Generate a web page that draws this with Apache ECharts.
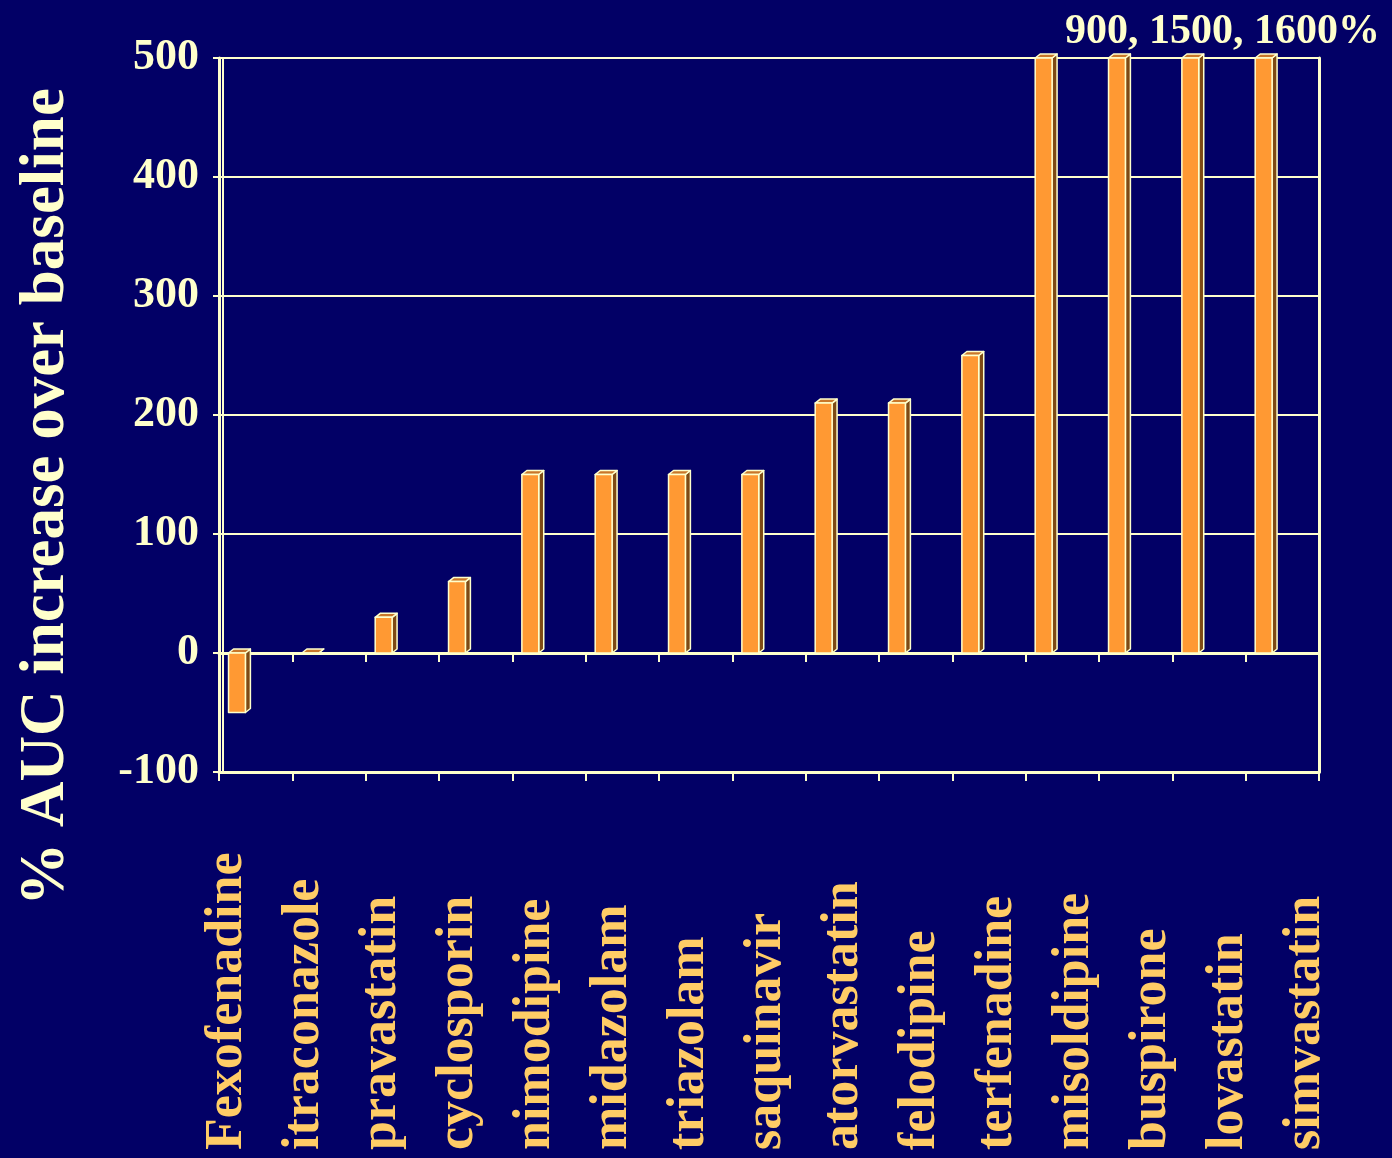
<!DOCTYPE html>
<html>
<head>
<meta charset="utf-8">
<title>% AUC increase over baseline</title>
<script src="https://cdn.jsdelivr.net/npm/echarts@6/dist/echarts.min.js"></script>
<style>
  html, body { margin: 0; padding: 0; background: #020066; }
  #chart { width: 1392px; height: 1158px; }
</style>
</head>
<body>
<div id="chart"></div>
<script>
// Drugs, ordered by the AUC change they show
const drugs = ['Fexofenadine', 'itraconazole', 'pravastatin', 'cyclosporin', 'nimodipine',
  'midazolam', 'triazolam', 'saquinavir', 'atorvastatin', 'felodipine', 'terfenadine',
  'misoldipine', 'buspirone', 'lovastatin', 'simvastatin'];
// % AUC increase over baseline (bars above the axis top are drawn capped)
const aucIncrease = [-50, 0, 30, 60, 150, 150, 150, 150, 210, 210, 250, 500, 500, 500, 500];
// Value axis ticks
const yTicks = [-100, 0, 100, 200, 300, 400, 500];
const offScaleNote = '900, 1500, 1600%';
const yAxisTitle = '% AUC increase over baseline';

const Y_MIN = yTicks[0];
const Y_MAX = yTicks[yTicks.length - 1];
const CREAM = '#FFFFCC';
const LABEL = '#FFCC66';
const SERIF = '"Liberation Serif", "Times New Roman", serif';

const chart = echarts.init(document.getElementById('chart'));

// Draws a bar as a small 3D block: front face, right side and top face
function renderBar(params, api) {
  const i = api.value(0);
  const v = Math.max(Y_MIN, Math.min(api.value(1), Y_MAX));
  const base = api.coord([i, 0]);
  const top = api.coord([i, v]);
  const band = api.size([1, 0])[0];
  const x0 = base[0] - band * 0.37;
  const w = band * 0.23;
  const dx = 5, dy = 4;
  const yHi = Math.min(base[1], top[1]);
  const yLo = Math.max(base[1], top[1]);
  const edge = { stroke: CREAM, lineWidth: 1.5, lineJoin: 'round' };
  return {
    type: 'group',
    children: [
      {
        type: 'polygon',
        shape: { points: [[x0 + w, yHi], [x0 + w + dx, yHi - dy], [x0 + w + dx, yLo - dy], [x0 + w, yLo]] },
        style: Object.assign({ fill: '#7E4A14' }, edge)
      },
      {
        type: 'polygon',
        shape: { points: [[x0, yHi], [x0 + dx, yHi - dy], [x0 + w + dx, yHi - dy], [x0 + w, yHi]] },
        style: Object.assign({ fill: '#C9772A' }, edge)
      },
      {
        type: 'rect',
        shape: { x: x0, y: yHi, width: w, height: yLo - yHi },
        style: Object.assign({ fill: '#FF9933' }, edge)
      }
    ]
  };
}

const plotGrid = { left: 219, right: 73, top: 58, bottom: 386 };
const tickStyle = { show: true, interval: 0, length: 9, lineStyle: { color: CREAM, width: 2 } };

chart.setOption({
  backgroundColor: '#020066',
  animation: false,
  title: {
    text: offScaleNote,
    right: 7,
    top: 6,
    textStyle: { color: CREAM, fontFamily: SERIF, fontWeight: 'bold', fontSize: 42 }
  },
  graphic: [{
    type: 'text',
    x: 47,
    y: 497,
    rotation: Math.PI / 2,
    style: {
      text: yAxisTitle,
      fill: CREAM,
      font: 'bold 63px ' + SERIF,
      align: 'center',
      verticalAlign: 'middle',
      textAlign: 'center',
      textVerticalAlign: 'middle'
    }
  }],
  grid: [
    plotGrid,
    // layout band used only to place the drug names under the plot
    { left: 189.5, width: 1155, top: 58, bottom: 386 }
  ],
  xAxis: [
    {
      type: 'category', data: drugs, gridIndex: 0,
      axisLine: { onZero: true, lineStyle: { color: CREAM, width: 3 } },
      axisTick: tickStyle,
      axisLabel: { show: false },
      splitLine: { show: false }
    },
    {
      type: 'category', data: drugs, gridIndex: 0, position: 'bottom',
      axisLine: { onZero: false, lineStyle: { color: CREAM, width: 3 } },
      axisTick: tickStyle,
      axisLabel: { show: false },
      splitLine: { show: false }
    },
    {
      type: 'category', data: drugs, gridIndex: 1, position: 'bottom',
      axisLine: { show: false, onZero: false },
      axisTick: { show: false },
      axisLabel: {
        show: true, interval: 0, rotate: 90, margin: 378,
        align: 'left', verticalAlign: 'middle',
        color: LABEL, fontFamily: SERIF, fontWeight: 'bold', fontSize: 52
      }
    }
  ],
  yAxis: [
    {
      type: 'value', gridIndex: 0, min: Y_MIN, max: Y_MAX, interval: 100,
      axisLine: { show: true, lineStyle: { color: CREAM, width: 3 } },
      axisTick: { show: true, length: 6, lineStyle: { color: CREAM, width: 2 } },
      axisLabel: { color: CREAM, fontFamily: SERIF, fontWeight: 'bold', fontSize: 44, margin: 20 },
      splitLine: { show: true, lineStyle: { color: CREAM, width: 2 } }
    },
    {
      type: 'value', gridIndex: 0, min: Y_MIN, max: Y_MAX, interval: 100, position: 'right',
      axisLine: { show: true, lineStyle: { color: CREAM, width: 3 } },
      axisTick: { show: false }, axisLabel: { show: false }, splitLine: { show: false }
    },
    {
      // inner edge of the left wall, drawn as a second line just inside the axis
      type: 'value', gridIndex: 0, min: Y_MIN, max: Y_MAX, interval: 100, position: 'left', offset: -4,
      axisLine: { show: true, lineStyle: { color: CREAM, width: 2 } },
      axisTick: { show: false }, axisLabel: { show: false }, splitLine: { show: false }
    },
    {
      type: 'value', gridIndex: 1, min: Y_MIN, max: Y_MAX, show: false
    }
  ],
  series: [{
    type: 'custom',
    xAxisIndex: 0,
    yAxisIndex: 0,
    renderItem: renderBar,
    encode: { x: 0, y: 1 },
    data: aucIncrease.map((v, i) => [i, v]),
    clip: false
  }]
});
</script>
</body>
</html>
